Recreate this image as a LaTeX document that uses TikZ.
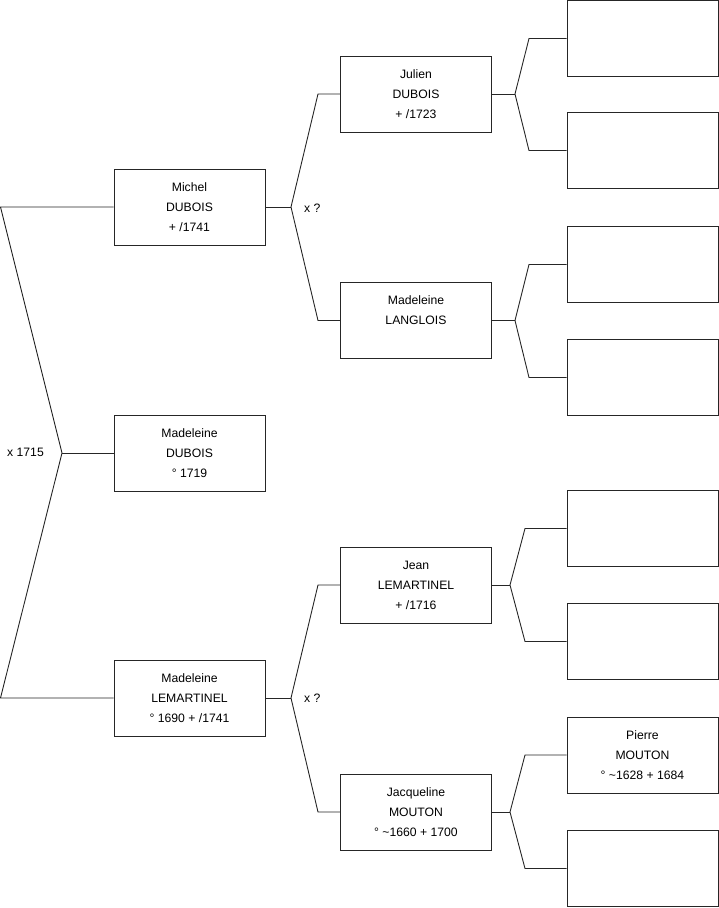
\documentclass[tikz,border=0pt]{standalone}
\usepackage{fontspec}
\setmainfont{Liberation Sans}
\begin{document}
\begin{tikzpicture}[x=1pt,y=-1pt,
  person/.style={draw=black!85,line width=0.9pt,rectangle,minimum width=151pt,minimum height=76pt,inner sep=0pt,align=center,font=\fontsize{12.2}{20}\selectfont},
  conn/.style={draw=black!85,line width=0.9pt},
  lbl/.style={font=\fontsize{12.2}{14}\selectfont,inner sep=0pt}]
\useasboundingbox (0,0) rectangle (719,908);
% level 1
\node[person] (michel) at (189.5,207) {Michel\\DUBOIS\\+ /1741};
\node[person] (mdubois) at (189.5,453) {Madeleine\\DUBOIS\\° 1719};
\node[person] (mlem) at (189.5,698) {Madeleine\\LEMARTINEL\\° 1690 + /1741};
% level 2
\node[person] (julien) at (416,94) {Julien\\DUBOIS\\+ /1723};
\node[person] (langlois) at (416,320.5) {Madeleine\\LANGLOIS\\~};
\node[person] (jean) at (416,585) {Jean\\LEMARTINEL\\+ /1716};
\node[person] (jacq) at (416,812) {Jacqueline\\MOUTON\\° \textasciitilde1660 + 1700};
% level 3
\node[person] (r1) at (642.5,38.5) {};
\node[person] (r2) at (642.5,150.5) {};
\node[person] (r3) at (642.5,264.5) {};
\node[person] (r4) at (642.5,377.5) {};
\node[person] (r5) at (642.5,528.5) {};
\node[person] (r6) at (642.5,641.5) {};
\node[person] (r7) at (642.5,755) {Pierre\\MOUTON\\° \textasciitilde1628 + 1684};
\node[person] (r8) at (642.5,868.5) {};
% branch coordinates
\coordinate (a1) at (0.5,207);
\coordinate (a2) at (0.5,698);
\coordinate (b0) at (62,453);
\coordinate (b1) at (291,207);
\coordinate (u1) at (318,94);
\coordinate (d1) at (318,320.5);
\coordinate (b2) at (291,698);
\coordinate (u2) at (318,585);
\coordinate (d2) at (318,812);
\coordinate (c1) at (515,94);
\coordinate (c1u) at (529,38.5);
\coordinate (c1d) at (529,150.5);
\coordinate (c2) at (515,320.5);
\coordinate (c2u) at (529,264.5);
\coordinate (c2d) at (529,377.5);
\coordinate (c3) at (510,585);
\coordinate (c3u) at (525,528.5);
\coordinate (c3d) at (525,641.5);
\coordinate (c4) at (510,812);
\coordinate (c4u) at (525,755);
\coordinate (c4d) at (525,868.5);
% connectors
\draw[conn] (michel.west) -- (a1) -- (b0) -- (a2) -- (mlem.west);
\draw[conn] (b0) -- (mdubois.west);
\draw[conn] (michel.east) -- (b1);
\draw[conn] (julien.west) -- (u1) -- (b1) -- (d1) -- (langlois.west);
\draw[conn] (mlem.east) -- (b2);
\draw[conn] (jean.west) -- (u2) -- (b2) -- (d2) -- (jacq.west);
\draw[conn] (julien.east) -- (c1);
\draw[conn] (r1.west) -- (c1u) -- (c1) -- (c1d) -- (r2.west);
\draw[conn] (langlois.east) -- (c2);
\draw[conn] (r3.west) -- (c2u) -- (c2) -- (c2d) -- (r4.west);
\draw[conn] (jean.east) -- (c3);
\draw[conn] (r5.west) -- (c3u) -- (c3) -- (c3d) -- (r6.west);
\draw[conn] (jacq.east) -- (c4);
\draw[conn] (r7.west) -- (c4u) -- (c4) -- (c4d) -- (r8.west);
% labels
\node[lbl,anchor=west] (m0) at (7,452) {x 1715};
\node[lbl,anchor=west] (m1) at (304,208) {x ?};
\node[lbl,anchor=west] (m2) at (304,698) {x ?};
\end{tikzpicture}
\end{document}
